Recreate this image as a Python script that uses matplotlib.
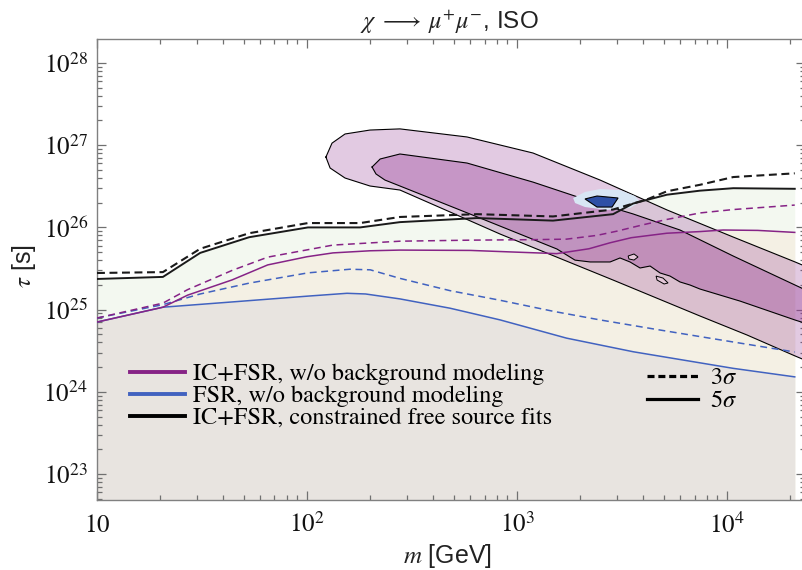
import numpy as np
import matplotlib
matplotlib.use("Agg")
import matplotlib.pyplot as plt
from matplotlib.lines import Line2D
from matplotlib.ticker import LogLocator, FuncFormatter, NullFormatter

plt.rcParams['mathtext.fontset'] = 'stix'
plt.rcParams['font.family'] = ['Liberation Sans', 'DejaVu Sans']

# ---- 5 sigma / 3 sigma lifetime limits, tau [s] vs m [GeV] ----
# IC+FSR, constrained free source fits
m_bk5 = [10, 20.6, 31, 53, 101, 179, 277, 645, 1483, 2865, 3565, 5170, 7430, 10700, 21000]
tau_bk5 = [2.36e25, 2.5e25, 4.9e25, 7.6e25, 1.0e26, 1.0e26, 1.16e26, 1.3e26, 1.21e26,
           1.45e26, 1.95e26, 2.5e26, 2.8e26, 3.0e26, 2.95e26]
m_bk3 = [10, 20.6, 31, 53, 101, 179, 277, 645, 1483, 2865, 4170, 5170, 7430, 10700, 21000]
tau_bk3 = [2.79e25, 2.86e25, 5.5e25, 8.5e25, 1.13e26, 1.13e26, 1.34e26, 1.45e26, 1.36e26,
           1.65e26, 2.2e26, 2.75e26, 3.3e26, 4.1e26, 4.55e26]

# IC+FSR, w/o background modeling
m_pu5 = [10, 20.6, 27, 44, 65, 100, 133, 200, 277, 600, 1000, 1545, 2200, 2770, 3500,
         5170, 7430, 9570, 14000, 21000]
tau_pu5 = [7.06e24, 1.07e25, 1.5e25, 2.3e25, 3.5e25, 4.4e25, 4.9e25, 5.2e25, 5.3e25,
           5.25e25, 5.0e25, 4.8e25, 5.5e25, 6.5e25, 7.5e25, 8.5e25, 8.9e25, 9.3e25,
           9.2e25, 8.7e25]
m_pu3 = [10, 20.6, 27, 44, 65, 133, 277, 600, 1200, 1720, 2400, 2985, 4000, 5170, 7430,
         10700, 21000]
tau_pu3 = [7.9e24, 1.2e25, 1.75e25, 3.0e25, 4.35e25, 6.1e25, 6.8e25, 7.0e25, 7.1e25,
           7.2e25, 8.0e25, 9.0e25, 1.08e26, 1.25e26, 1.5e26, 1.65e26, 1.87e26]

# FSR, w/o background modeling
m_bl5 = [10, 20.6, 44, 101, 155, 190, 277, 480, 830, 1720, 3580, 10700, 21000]
tau_bl5 = [7.06e24, 1.07e25, 1.24e25, 1.46e25, 1.58e25, 1.55e25, 1.35e25, 1.04e25,
           7.5e24, 4.5e24, 3.07e24, 1.93e24, 1.52e24]
m_bl3 = [10, 20.6, 31, 53, 101, 160, 200, 277, 480, 830, 1500, 2480, 4500, 7430, 21000]
tau_bl3 = [7.9e24, 1.15e25, 1.55e25, 2.1e25, 2.8e25, 3.1e25, 3.05e25, 2.4e25, 1.7e25,
           1.3e25, 9.5e24, 7.5e24, 5.8e24, 4.7e24, 3.05e24]

# ---- best-fit regions of the signal fit ----
# outer contour: upper edge (left to right), then lower edge (right to left)
m_outer = [123, 131.5, 151.7, 199.5, 277, 578, 1191, 2485, 5180, 10690, 21080, 26000,
           26000, 21080, 12450, 7432, 2866, 830, 480, 277, 199.5, 151.7, 128.8]
tau_outer = [7.18e26, 1.06e27, 1.37e27, 1.53e27, 1.58e27, 1.26e27, 8.04e26, 3.77e26,
             1.63e26, 7.64e25, 3.8e25, 3.03e25,
             2.18e24, 2.73e24, 4.91e24, 8.36e24, 2.29e25, 8.31e25, 1.54e26, 2.85e26,
             3.19e26, 3.99e26, 5.28e26]
# inner contour
m_inner = [204, 223, 277, 578, 1191, 2155, 3565, 5970, 10690, 21080, 26000,
           26000, 21080, 11530, 7432, 6670, 5970, 5350, 4800, 4300, 3852, 3451, 3092,
           2773, 2230, 1888, 1549, 667, 277, 235, 213]
tau_inner = [5.43e26, 6.8e26, 7.82e26, 6.07e26, 3.56e26, 2.15e26, 1.46e26, 9.3e25,
             4.49e25, 1.99e25, 1.55e25,
             6.3e24, 7.47e24, 1.27e25, 1.78e25, 1.99e25, 2.17e25, 2.56e25, 2.79e25,
             3.39e25, 3.21e25, 3.8e25, 4.25e25, 3.8e25, 3.8e25, 4.0e25, 5.46e25,
             1.3e26, 3.19e26, 3.77e26, 4.47e26]
# small detached pieces of the inner contour
islands = [
    ([3380, 3606, 3767, 3606, 3412], [4.49e25, 4.75e25, 4.37e25, 4.01e25, 4.13e25]),
    ([4592, 4955, 5236, 5013, 4643], [2.56e25, 2.42e25, 2.11e25, 2.05e25, 2.29e25]),
]
# FSR-only fit region
m_fsr_out = [1849, 2107, 2485, 3092, 3646, 3852, 3451, 2685, 2107, 1889]
tau_fsr_out = [2.28e26, 2.70e26, 2.93e26, 2.85e26, 2.41e26, 2.04e26, 1.72e26, 1.63e26,
               1.77e26, 1.98e26]
m_fsr_in = [2107, 2404, 3027, 2833, 2404]
tau_fsr_in = [2.22e26, 2.41e26, 2.28e26, 1.77e26, 1.77e26]

legend_labels = ["IC+FSR, w/o background modeling",
                 "FSR, w/o background modeling",
                 "IC+FSR, constrained free source fits"]
sigma_labels = [r"3$\sigma$", r"5$\sigma$"]

PURPLE = '#862386'
BLUE = '#4162C0'
FLOOR = 1e22

fig = plt.figure(figsize=(8.03, 5.70), dpi=100)
ax = fig.add_axes([97 / 803, 70 / 570, 708 / 803, 461 / 570])
ax.set_xscale('log')
ax.set_yscale('log')
ax.set_xlim(10, 2.35e4)
ax.set_ylim(4.83e22, 1.96e28)

# excluded regions below each 5 sigma curve
ax.fill_between(m_bk5, tau_bk5, FLOOR, color='#F3F8F0', lw=0, zorder=1)
ax.fill_between(m_pu5, tau_pu5, FLOOR, color='#F4F0E4', lw=0, zorder=1.1)
ax.fill_between(m_bl5, tau_bl5, FLOOR, color='#E8E4E0', lw=0, zorder=1.2)

# signal regions
ax.fill(m_outer, tau_outer, facecolor='#963C96', alpha=0.27, edgecolor='none', zorder=2)
ax.fill(m_inner, tau_inner, facecolor='#963C96', alpha=0.36, edgecolor='none', zorder=2.1)
ax.plot(m_outer + m_outer[:1], tau_outer + tau_outer[:1], color='k', lw=0.8, zorder=3)
ax.plot(m_inner + m_inner[:1], tau_inner + tau_inner[:1], color='k', lw=0.8, zorder=3)
for im, it in islands:
    ax.fill(im, it, facecolor='#E6C8DA', edgecolor='k', lw=0.7, zorder=3)

ax.fill(m_fsr_out, tau_fsr_out, facecolor='#D8E6F4', edgecolor='none', zorder=4)
ax.fill(m_fsr_in, tau_fsr_in, facecolor='#2E50A6', edgecolor='k', lw=0.8, zorder=4.1)

# limit curves
ax.plot(m_bl5, tau_bl5, color=BLUE, lw=1.1, zorder=5)
ax.plot(m_bl3, tau_bl3, color=BLUE, lw=1.1, dashes=(4.5, 3), zorder=5)
ax.plot(m_pu5, tau_pu5, color=PURPLE, lw=1.1, zorder=5)
ax.plot(m_pu3, tau_pu3, color=PURPLE, lw=1.1, dashes=(4.5, 3), zorder=5)
ax.plot(m_bk5, tau_bk5, color='#1a1a1a', lw=1.4, zorder=5.1)
ax.plot(m_bk3, tau_bk3, color='#1a1a1a', lw=1.5, dashes=(3.8, 2.2), zorder=5.1)

# axes styling
for sp in ax.spines.values():
    sp.set_color('#808080')
    sp.set_linewidth(1.0)
ax.xaxis.set_major_locator(LogLocator(base=10, subs=(1.0,), numticks=20))
ax.xaxis.set_minor_locator(LogLocator(base=10, subs=np.arange(2, 10), numticks=20))
ax.yaxis.set_major_locator(LogLocator(base=10, subs=(1.0,), numticks=20))
ax.yaxis.set_minor_locator(LogLocator(base=10, subs=np.arange(2, 10), numticks=20))


def pow_fmt(v, pos):
    e = int(round(np.log10(v)))
    return r'$10$' if e == 1 else r'$10^{%d}$' % e


ax.xaxis.set_major_formatter(FuncFormatter(pow_fmt))
ax.yaxis.set_major_formatter(FuncFormatter(pow_fmt))
ax.xaxis.set_minor_formatter(NullFormatter())
ax.yaxis.set_minor_formatter(NullFormatter())
ax.tick_params(which='both', direction='in', top=True, right=True, color='#707070',
               width=0.9, labelsize=18, labelcolor='#111111')
ax.tick_params(which='major', length=6.5)
ax.tick_params(which='minor', length=3.5)
ax.tick_params(axis='x', pad=9)
ax.tick_params(axis='y', pad=6.5)

ax.set_xlabel(r'$m$ [GeV]', fontsize=18, color='#222222')
ax.xaxis.set_label_coords((448 - 97) / 708, (500 - 542) / 461)
ax.set_ylabel(r'$\tau$ [s]', fontsize=18, color='#222222')
ax.yaxis.set_label_coords((38 - 97) / 708, (500 - 266) / 461)

fig.text(449 / 803, 1 - 22 / 570,
         r'$\chi\;\longrightarrow\;\mu^{+}\mu^{-}$, ISO',
         ha='center', va='center', fontsize=17.5, color='#222222')

# legends
h_cols = [Line2D([], [], color=PURPLE, lw=2.8),
          Line2D([], [], color=BLUE, lw=2.8),
          Line2D([], [], color='black', lw=2.8)]
leg1 = ax.legend(h_cols, legend_labels, loc='upper left',
                 bbox_to_anchor=((130 - 97) / 708, (500 - 363) / 461),
                 frameon=False, prop={'family': 'STIXGeneral', 'size': 17.5},
                 handlelength=2.25, handletextpad=0.35, labelspacing=0.0,
                 borderpad=0, borderaxespad=0)
ax.add_artist(leg1)
h_sig = [Line2D([], [], color='black', lw=2.3, dashes=(2.2, 1.2)),
         Line2D([], [], color='black', lw=2.3)]
ax.legend(h_sig, sigma_labels, loc='upper left',
          bbox_to_anchor=((647 - 97) / 708, (500 - 367) / 461),
          frameon=False, prop={'family': 'STIXGeneral', 'size': 17.5},
          handlelength=2.1, handletextpad=0.5, labelspacing=0.05,
          borderpad=0, borderaxespad=0)

fig.savefig('out.png', dpi=100)
